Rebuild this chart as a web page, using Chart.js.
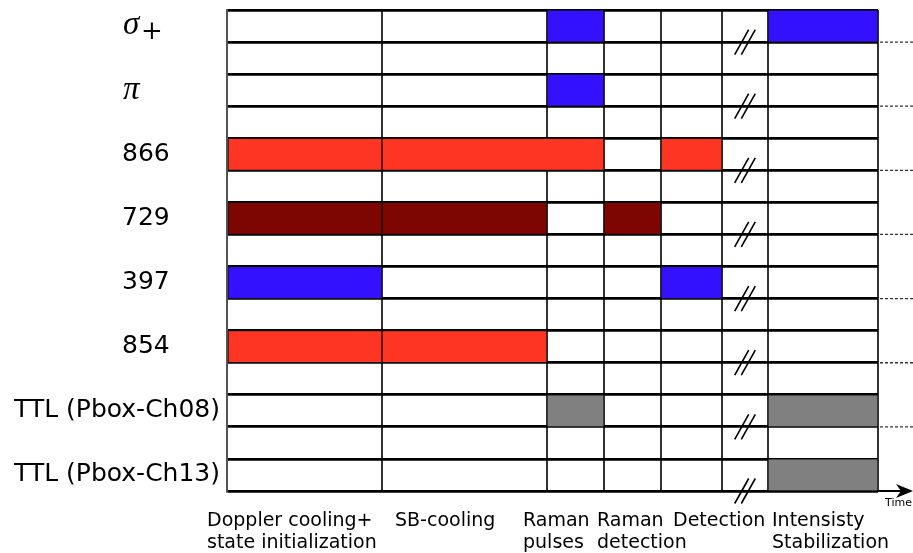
<!DOCTYPE html>
<html>
<head>
<meta charset="utf-8">
<title>Pulse sequence</title>
<script src="https://cdn.jsdelivr.net/npm/chart.js@4.4.1/dist/chart.umd.min.js"></script>
<style>
  html, body { margin: 0; padding: 0; background: #fff; }
</style>
</head>
<body>
<canvas id="myChart" width="913" height="553"></canvas>
<script>
var channels = ["σ+", "π", "866", "729", "397", "854", "TTL (Pbox-Ch08)", "TTL (Pbox-Ch13)"];

// sequence phases, time in arbitrary units
var phaseNames = [
  ["Doppler cooling+", "state initialization"],
  ["SB-cooling"],
  ["Raman", "pulses"],
  ["Raman", "detection"],
  ["Detection"],
  ["Intensisty", "Stabilization"],
];
var phaseEdges = [0, 155, 320, 377, 434, 495, 541, 651];
var phaseLabelAt = [-20, 168, 296, 370, 446, 545];
var breakFrom = 495;
var breakTo = 541;

// [channel, start, end]
var bluePulses = [["σ+", 320, 377], ["σ+", 541, 651], ["π", 320, 377], ["397", 0, 155], ["397", 434, 495]];
var redPulses = [["866", 0, 155], ["866", 155, 377], ["866", 434, 495], ["854", 0, 155], ["854", 155, 320]];
var darkRedPulses = [["729", 0, 155], ["729", 155, 320], ["729", 377, 434]];
var grayPulses = [["TTL (Pbox-Ch08)", 320, 377], ["TTL (Pbox-Ch08)", 541, 651], ["TTL (Pbox-Ch13)", 541, 651]];

// one row per channel with an empty row in between
var rows = [];
channels.forEach(function (c, i) {
  rows.push(c);
  if (i < channels.length - 1) rows.push("");
});

function toBars(list) {
  return list.map(function (p) {
    return { y: p[0], x: [p[1], p[2]] };
  });
}

function pulseSet(list, color) {
  return {
    data: toBars(list),
    backgroundColor: color,
    borderColor: "#111",
    borderWidth: 1,
    borderSkipped: false,
    grouped: false,
    categoryPercentage: 1,
    barPercentage: 1,
  };
}

var decorations = {
  id: "decorations",
  afterDraw: function (chart) {
    var ctx = chart.ctx;
    var xs = chart.scales.x;
    var ys = chart.scales.y;
    var area = chart.chartArea;
    var half = (ys.getPixelForValue(1) - ys.getPixelForValue(0)) / 2;
    ctx.save();

    // channel names
    ctx.fillStyle = "#000";
    ctx.textAlign = "left";
    channels.forEach(function (c) {
      var y = ys.getPixelForValue(rows.indexOf(c));
      ctx.textBaseline = "alphabetic";
      if (c === "σ+") {
        ctx.font = 'italic 33px "Liberation Serif"';
        ctx.fillText("σ", 123, y + 8);
        ctx.font = '26px "DejaVu Serif"';
        ctx.textBaseline = "middle";
        ctx.fillText("+", 141, y + 6);
      } else if (c === "π") {
        ctx.font = 'italic 33px "Liberation Serif"';
        ctx.fillText("π", 123, y + 9);
      } else {
        ctx.font = '25px "DejaVu Sans"';
        ctx.textBaseline = "middle";
        var tw = ctx.measureText(c).width;
        ctx.fillText(c, Math.min(122, area.left - 7 - tw), y);
      }
    });

    // dotted continuation lines and break marks
    var cx = xs.getPixelForValue((breakFrom + breakTo) / 2);
    channels.forEach(function (c, i) {
      var yb = ys.getPixelForValue(rows.indexOf(c)) + half;
      if (i < channels.length - 1) {
        ctx.setLineDash([3, 2]);
        ctx.strokeStyle = "#333";
        ctx.lineWidth = 1.3;
        ctx.beginPath();
        ctx.moveTo(area.right + 2, yb);
        ctx.lineTo(chart.width, yb);
        ctx.stroke();
      }
      ctx.setLineDash([]);
      ctx.strokeStyle = "#000";
      ctx.lineWidth = 1.6;
      [-3.3, 3.3].forEach(function (d) {
        ctx.beginPath();
        ctx.moveTo(cx + d - 7, yb + 12.5);
        ctx.lineTo(cx + d + 7, yb - 12.5);
        ctx.stroke();
      });
    });

    // time arrow
    var yb2 = area.bottom;
    ctx.strokeStyle = "#000";
    ctx.lineWidth = 2;
    ctx.beginPath();
    ctx.moveTo(area.right, yb2);
    ctx.lineTo(chart.width - 6, yb2);
    ctx.stroke();
    ctx.fillStyle = "#000";
    ctx.beginPath();
    ctx.moveTo(chart.width, yb2);
    ctx.lineTo(chart.width - 17, yb2 - 7);
    ctx.lineTo(chart.width - 12, yb2);
    ctx.lineTo(chart.width - 17, yb2 + 7);
    ctx.closePath();
    ctx.fill();
    ctx.font = '11px "DejaVu Sans"';
    ctx.textBaseline = "alphabetic";
    ctx.fillText("Time", 885, yb2 + 15);

    // phase names
    ctx.font = '19px "DejaVu Sans"';
    phaseNames.forEach(function (lines, i) {
      var x = xs.getPixelForValue(phaseLabelAt[i]);
      lines.forEach(function (t, k) {
        ctx.fillText(t, x, yb2 + 35 + k * 22);
      });
    });
    ctx.restore();
  },
};

var data = {
  labels: rows,
  datasets: [
    pulseSet(bluePulses, "#3311ff"),
    pulseSet(redPulses, "#ff3524"),
    pulseSet(darkRedPulses, "#7d0700"),
    pulseSet(grayPulses, "#808080"),
  ],
};

var config = {
  type: "bar",
  data: data,
  options: {
    indexAxis: "y",
    responsive: false,
    animation: false,
    layout: { padding: { left: 227, right: 35, top: 10, bottom: 62 } },
    plugins: {
      legend: { display: false },
      tooltip: { enabled: false },
    },
    scales: {
      x: {
        type: "linear",
        min: phaseEdges[0],
        max: phaseEdges[phaseEdges.length - 1],
        afterBuildTicks: function (scale) {
          scale.ticks = phaseEdges.map(function (v) {
            return { value: v };
          });
        },
        grid: { color: "#333", lineWidth: 2, drawTicks: false },
        border: { display: false },
        ticks: { display: false },
      },
      y: {
        type: "category",
        offset: true,
        z: 1,
        grid: { offset: true, color: "#000", lineWidth: 2.8, drawTicks: false },
        border: { color: "#555", width: 2 },
        ticks: { display: false },
      },
    },
  },
  plugins: [decorations],
};

var myChart = new Chart(document.getElementById("myChart"), config);
</script>
</body>
</html>
